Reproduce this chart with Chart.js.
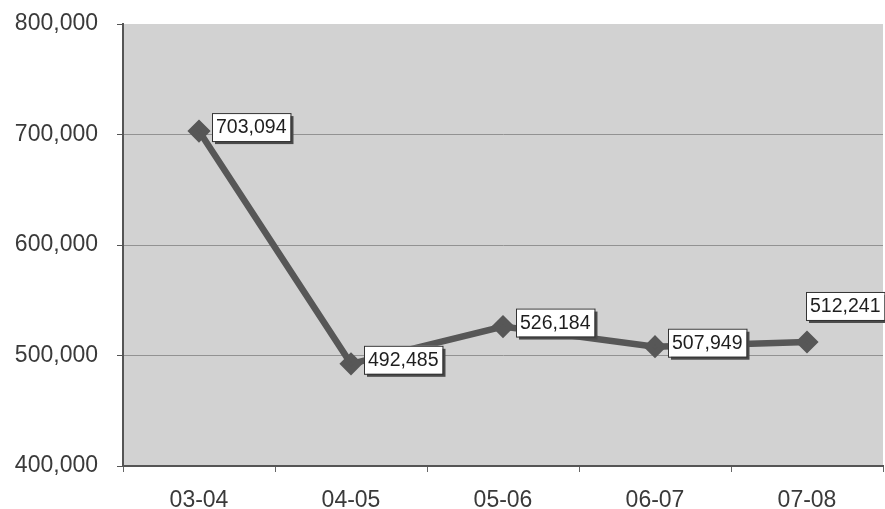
<!DOCTYPE html>
<html>
<head>
<meta charset="utf-8">
<script src="https://cdn.jsdelivr.net/npm/chart.js@4/dist/chart.umd.min.js"></script>
<style>
html,body{margin:0;padding:0;background:#fff;}
#wrap{width:885px;height:509px;position:relative;}
</style>
</head>
<body>
<div id="wrap"><canvas id="c" width="885" height="509"></canvas></div>
<script>
const categories = ['03-04', '04-05', '05-06', '06-07', '07-08'];
const values = [703094, 492485, 526184, 507949, 512241];
const yTicks = [400000, 500000, 600000, 700000, 800000];
const labelPlacement = ['right', 'right', 'right', 'right', 'above'];

const fmt = v => v.toLocaleString('en-US');

const bgPlugin = {
  id: 'bg',
  beforeDraw(chart) {
    const {ctx, chartArea: a} = chart;
    ctx.save();
    ctx.fillStyle = '#d2d2d2';
    ctx.fillRect(a.left, a.top, a.right - a.left, a.bottom - a.top);
    ctx.restore();
  }
};

const labelPlugin = {
  id: 'labels',
  afterDatasetsDraw(chart) {
    const {ctx} = chart;
    const meta = chart.getDatasetMeta(0);
    ctx.save();
    ctx.font = '19.5px "Liberation Sans", Arial, sans-serif';
    meta.data.forEach((pt, i) => {
      const text = fmt(values[i]);
      const tw = ctx.measureText(text).width;
      const w = tw + 8, h = 28;
      let x = pt.x + 13, y = pt.y - 18;
      if (labelPlacement[i] === 'above') { x = pt.x - 1; y = pt.y - 50; }
      ctx.fillStyle = '#4a4a4a';
      ctx.fillRect(x + 3, y + 3, w, h);
      ctx.fillStyle = '#fff';
      ctx.fillRect(x, y, w, h);
      ctx.strokeStyle = '#333';
      ctx.lineWidth = 1;
      ctx.strokeRect(x + 0.5, y + 0.5, w, h);
      ctx.fillStyle = '#1e1e1e';
      ctx.textBaseline = 'middle';
      ctx.textAlign = 'left';
      ctx.fillText(text, x + 4, y + h / 2 + 1);
    });
    ctx.restore();
  }
};

new Chart(document.getElementById('c'), {
  type: 'line',
  data: {
    labels: categories,
    datasets: [{
      data: values,
      borderColor: '#575757',
      backgroundColor: '#575757',
      borderWidth: 6.5,
      pointStyle: 'rectRot',
      pointRadius: 7,
      pointBackgroundColor: '#575757',
      pointBorderColor: '#575757',
      tension: 0,
      fill: false,
      clip: false
    }]
  },
  options: {
    responsive: false,
    animation: false,
    events: [],
    layout: { autoPadding: false, padding: { top: 24, right: 2, left: 0, bottom: 0 } },
    plugins: { legend: { display: false }, tooltip: { enabled: false } },
    scales: {
      x: {
        offset: true,
        grid: {
          offset: true,
          drawOnChartArea: false,
          drawTicks: true,
          tickLength: 6,
          color: '#666'
        },
        border: { display: true, color: '#555', width: 2 },
        ticks: {
          color: '#3a3a3a',
          padding: 15,
          font: { family: '"Liberation Sans", Arial, sans-serif', size: 23 }
        },
        afterFit(scale) { scale.height = 43; scale.paddingLeft = 0; scale.paddingRight = 0; }
      },
      y: {
        min: 400000,
        max: 800000,
        afterBuildTicks(scale) { scale.ticks = yTicks.map(v => ({ value: v })); },
        grid: {
          color: ctx => (ctx.tick && (ctx.tick.value === 400000 || ctx.tick.value === 800000)) ? 'rgba(0,0,0,0)' : '#929292',
          tickColor: '#555',
          tickLength: 6,
          lineWidth: 1
        },
        border: { display: true, color: '#555', width: 2 },
        ticks: {
          color: '#3a3a3a',
          padding: 19,
          font: { family: '"Liberation Sans", Arial, sans-serif', size: 23 },
          callback: v => fmt(v)
        },
        afterFit(scale) { scale.width = 123; scale.paddingTop = 0; scale.paddingBottom = 0; }
      }
    }
  },
  plugins: [bgPlugin, labelPlugin]
});
</script>
</body>
</html>
